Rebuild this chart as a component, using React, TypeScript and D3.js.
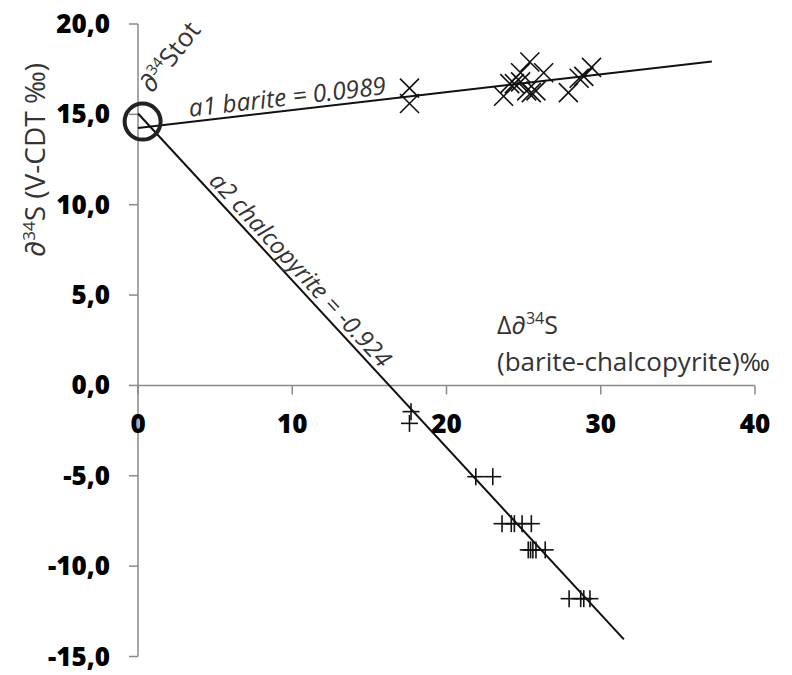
import React from "react";
import * as d3 from "d3";

// ---- data ----
const bariteX = [17.6, 17.6, 23.7, 24.1, 24.4, 24.8, 24.8, 25.4, 25.2, 25.5, 25.8, 26.3, 27.9, 28.6, 28.9, 29.4];
const bariteY = [16.45, 15.6, 16.0, 16.7, 16.7, 16.8, 17.3, 17.9, 16.3, 16.2, 16.3, 17.3, 16.2, 17.0, 17.1, 17.6];

const chalcoX = [17.7, 17.6, 21.9, 23.0, 23.6, 24.2, 24.4, 24.9, 25.5, 25.3, 25.45, 25.6, 25.8, 26.4, 27.95, 28.7, 28.9, 29.3];
const chalcoY = [-1.45, -2.1, -5.05, -5.05, -7.65, -7.65, -7.65, -7.65, -7.65, -9.1, -9.1, -9.1, -9.1, -9.1, -11.8, -11.8, -11.8, -11.8];

// regression lines: [intercept, slope, last x]
const bariteFit = [14.25, 0.0989, 37.2];
const chalcoFit = [15.05, -0.924, 31.5];

// total-sulfur point (intercept)
const stotPoint = [0.3, 14.6];

const xTicks = [0, 10, 20, 30, 40];
const yTicks = [20, 15, 10, 5, 0, -5, -10, -15];

const bariteLabel = "a1 barite = 0.0989";
const chalcoLabel = "a2 chalcopyrite = -0.924";

export default function App() {
  const W = 792, H = 675;
  const x = d3.scaleLinear().domain([0, 40]).range([138, 755]);
  const y = d3.scaleLinear().domain([-15, 20]).range([656.5, 24]);
  const fmt0 = d3.formatLocale({ decimal: ",", thousands: ".", grouping: [3], currency: ["", ""], minus: "-" }).format(".1f");
  const fmt = (v: number) => fmt0(v).replace("\u2212", "-");

  const axisColor = "#8a8a8a";
  const textColor = "#333";
  const markColor = "#111";
  const font = "'Open Sans', sans-serif";

  const fitLine = (f: number[]) =>
    d3.line<number>().x((d) => x(d)).y((d) => y(f[0] + f[1] * d))([0, f[2]]) || "";

  const angle = (f: number[]) => {
    const dx = x(10) - x(0);
    const dy = y(f[0] + f[1] * 10) - y(f[0]);
    return (Math.atan2(dy, dx) * 180) / Math.PI;
  };

  const bLabX = 3.4;
  const cLabX = 4.3;

  const xs = 9.5; // half-size of X markers
  const ps = 8.5; // half-size of + markers

  return (
    <svg width={W} height={H} style={{ position: "absolute", left: 0, top: 0, background: "#fff" }}>
      <rect x={0} y={0} width={W} height={H} fill="#fff" />
      {/* axes */}
      <line x1={x(0)} x2={x(0)} y1={y(20)} y2={y(-15)} stroke={axisColor} strokeWidth={1.5} />
      <line x1={x(0)} x2={x(40)} y1={y(0)} y2={y(0)} stroke={axisColor} strokeWidth={1.5} />
      {yTicks.map((t) => (
        <g key={"yt" + t}>
          <line x1={x(0) - 9} x2={x(0)} y1={y(t)} y2={y(t)} stroke={axisColor} strokeWidth={1.5} />
          <text x={110} y={y(t) + 9} textAnchor="end" fontFamily={font} fontWeight={800} fontSize={26} fill="#000">
            {fmt(t)}
          </text>
        </g>
      ))}
      {xTicks.map((t) => (
        <g key={"xt" + t}>
          <line x1={x(t)} x2={x(t)} y1={y(0)} y2={y(0) + 9} stroke={axisColor} strokeWidth={1.5} />
          <text x={x(t)} y={433} textAnchor="middle" fontFamily={font} fontWeight={800} fontSize={26} fill="#000">
            {t}
          </text>
        </g>
      ))}

      {/* axis titles */}
      <text transform={`translate(45, 160) rotate(-90)`} textAnchor="middle" fontFamily={font} fontSize={28} fill={textColor}>
        ∂<tspan dy={-10} fontSize={17}>34</tspan>
        <tspan dy={10}>S (V-CDT ‰)</tspan>
      </text>
      <text x={497} y={334} fontFamily={font} fontSize={25} fill={textColor}>
        Δ∂<tspan dy={-10} fontSize={16}>34</tspan>
        <tspan dy={10}>S</tspan>
      </text>
      <text x={497} y={371} fontFamily={font} fontSize={26} fill={textColor}>
        (barite-chalcopyrite)‰
      </text>

      {/* regression lines */}
      <path d={fitLine(bariteFit)} fill="none" stroke={markColor} strokeWidth={2} />
      <path d={fitLine(chalcoFit)} fill="none" stroke={markColor} strokeWidth={2} />

      {/* line labels */}
      <text
        transform={`translate(${x(bLabX)}, ${y(bariteFit[0] + bariteFit[1] * bLabX)}) rotate(${angle(bariteFit)})`}
        y={-5}
        fontFamily={font}
        fontStyle="italic"
        fontSize={24.5}
        fill={textColor}
      >
        {bariteLabel}
      </text>
      <text
        transform={`translate(${x(cLabX)}, ${y(chalcoFit[0] + chalcoFit[1] * cLabX)}) rotate(${angle(chalcoFit)})`}
        y={-5}
        fontFamily={font}
        fontStyle="italic"
        fontSize={24}
        fill={textColor}
      >
        {chalcoLabel}
      </text>

      {/* Stot marker */}
      <circle cx={x(stotPoint[0])} cy={y(stotPoint[1])} r={18} fill="none" stroke="#222" strokeWidth={4} />
      <text transform={`translate(152, 94) rotate(-52)`} fontFamily={font} fontSize={26} fill={textColor}>
        ∂<tspan dy={-10} fontSize={15}>34</tspan>
        <tspan dy={10}>Stot</tspan>
      </text>

      {/* barite points (X) */}
      {bariteX.map((bx, i) => {
        const cx = x(bx), cy = y(bariteY[i]);
        return (
          <g key={"b" + i} stroke={markColor} strokeWidth={1.6}>
            <line x1={cx - xs} y1={cy - xs} x2={cx + xs} y2={cy + xs} />
            <line x1={cx - xs} y1={cy + xs} x2={cx + xs} y2={cy - xs} />
          </g>
        );
      })}
      {/* chalcopyrite points (+) */}
      {chalcoX.map((cxv, i) => {
        const cx = x(cxv), cy = y(chalcoY[i]);
        return (
          <g key={"c" + i} stroke={markColor} strokeWidth={1.6}>
            <line x1={cx - ps} y1={cy} x2={cx + ps} y2={cy} />
            <line x1={cx} y1={cy - ps} x2={cx} y2={cy + ps} />
          </g>
        );
      })}
    </svg>
  );
}
